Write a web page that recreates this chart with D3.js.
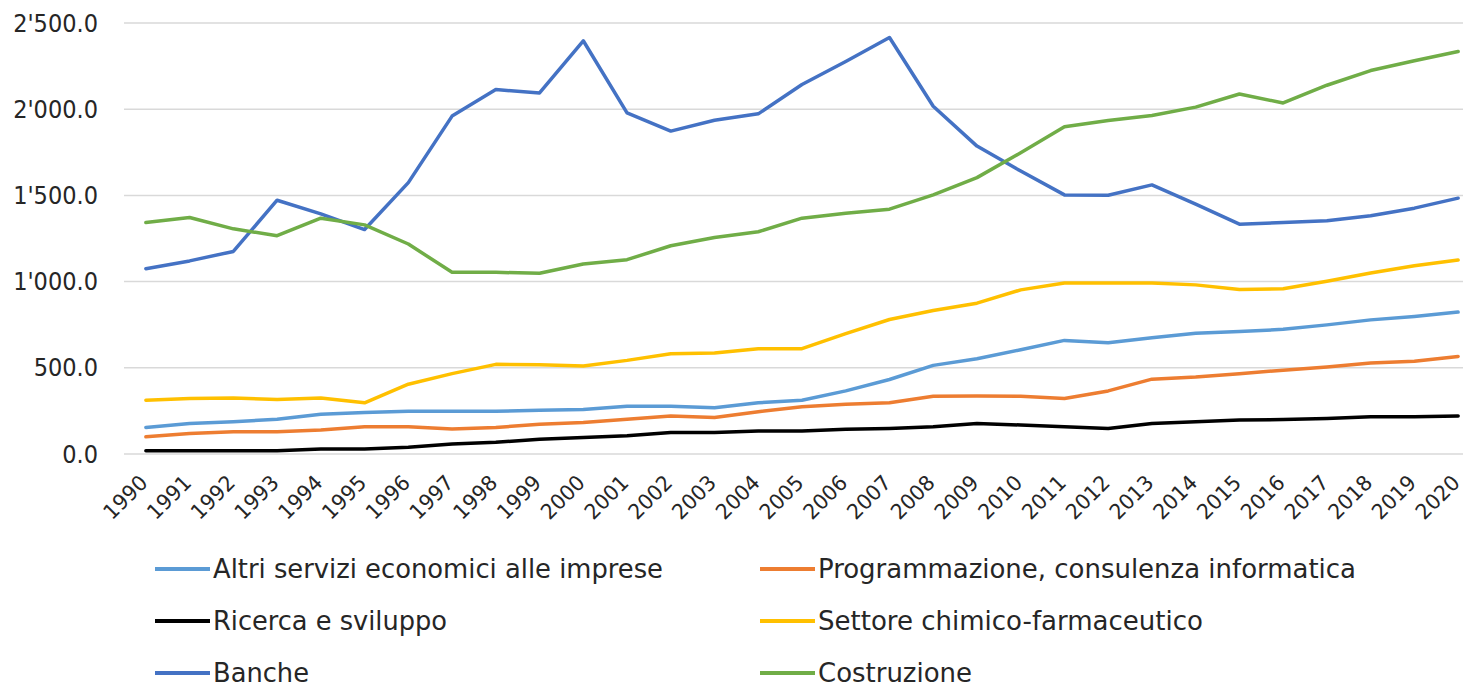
<!DOCTYPE html>
<html>
<head>
<meta charset="utf-8">
<script src="https://cdn.jsdelivr.net/npm/d3@7"></script>
<style>
  body { margin: 0; background: #fff; }
  svg text { font-family: "DejaVu Sans Condensed", "Liberation Sans Narrow", "Open Sans", sans-serif; fill: #262626; }
</style>
</head>
<body>
<div id="chart"></div>
<script>
const years = d3.range(1990, 2021).map(String);

const altriServizi = [154, 177, 187, 202, 231, 241, 248, 248, 248, 254, 258, 277, 277, 268, 297, 312, 366, 432, 514, 553, 605, 659, 645, 674, 701, 711, 723, 749, 778, 798, 823];
const programmazione = [100, 119, 129, 129, 139, 158, 158, 145, 154, 173, 183, 202, 221, 212, 245, 274, 289, 297, 335, 337, 335, 322, 366, 434, 447, 466, 486, 505, 528, 538, 566];
const ricerca = [19, 19, 19, 19, 29, 29, 39, 58, 68, 85, 96, 106, 125, 125, 133, 133, 143, 148, 158, 177, 168, 158, 148, 177, 187, 197, 200, 206, 216, 216, 221];
const chimico = [312, 322, 325, 316, 325, 297, 405, 466, 520, 518, 511, 543, 582, 586, 611, 611, 698, 780, 832, 875, 952, 992, 992, 992, 981, 954, 958, 1002, 1050, 1092, 1125];
const banche = [1075, 1120, 1175, 1472, 1393, 1302, 1574, 1960, 2114, 2094, 2397, 1979, 1873, 1936, 1973, 2143, 2277, 2416, 2017, 1786, 1641, 1503, 1501, 1561, 1449, 1333, 1343, 1353, 1382, 1426, 1484];
const costruzione = [1343, 1372, 1306, 1266, 1368, 1329, 1218, 1054, 1054, 1048, 1102, 1127, 1208, 1256, 1289, 1368, 1397, 1420, 1503, 1603, 1747, 1898, 1935, 1963, 2012, 2088, 2036, 2139, 2224, 2281, 2335];

const yTicks = [0, 500, 1000, 1500, 2000, 2500];

const series = [
  { name: "Altri servizi economici alle imprese", values: altriServizi, color: "#5b9bd5", textWidth: 450 },
  { name: "Programmazione, consulenza informatica", values: programmazione, color: "#ed7d31", textWidth: 538 },
  { name: "Ricerca e sviluppo", values: ricerca, color: "#000000", textWidth: 234 },
  { name: "Settore chimico-farmaceutico", values: chimico, color: "#ffc000", textWidth: 385 },
  { name: "Banche", values: banche, color: "#4472c4", textWidth: 96 },
  { name: "Costruzione", values: costruzione, color: "#70ad47", textWidth: 154 },
];

const width = 1463;
const height = 689;

const svg = d3.select("#chart")
  .append("svg")
  .attr("width", width)
  .attr("height", height);

const xScale = d3.scaleBand()
  .domain(years)
  .range([124, 1480]);

const yScale = d3.scaleLinear()
  .domain([0, 2500])
  .range([454, 23]);

const fmt = d3.formatLocale({ decimal: ".", thousands: "'", grouping: [3], currency: ["", ""] }).format(",.1f");

// grid lines
svg.append("g")
  .selectAll("line")
  .data(yTicks)
  .enter()
  .append("line")
  .attr("x1", 124)
  .attr("x2", width)
  .attr("y1", (d) => yScale(d))
  .attr("y2", (d) => yScale(d))
  .attr("stroke", "#d9d9d9")
  .attr("stroke-width", 1.5);

// y axis labels
const yAxis = svg.append("g")
  .attr("transform", "translate(112,0)")
  .call(d3.axisLeft(yScale).tickValues(yTicks).tickFormat(fmt).tickSize(0).tickPadding(14));
yAxis.select(".domain").remove();
yAxis.selectAll("text")
  .style("font-size", "25px")
  .attr("fill", "#262626");

// x axis labels
const xAxis = svg.append("g")
  .attr("transform", "translate(0,454)")
  .call(d3.axisBottom(xScale).tickSize(0).tickPadding(0));
xAxis.select(".domain").remove();
xAxis.selectAll("text")
  .style("font-size", "21px")
  .attr("fill", "#262626")
  .attr("text-anchor", "end")
  .attr("dy", 0)
  .attr("textLength", 52)
  .attr("lengthAdjust", "spacingAndGlyphs")
  .attr("transform", "translate(3,30) rotate(-45)");

// lines
const line = d3.line()
  .x((d, i) => xScale(years[i]) + xScale.bandwidth() / 2)
  .y((d) => yScale(d));

svg.append("g")
  .selectAll("path")
  .data(series)
  .enter()
  .append("path")
  .attr("d", (d) => line(d.values))
  .attr("fill", "none")
  .attr("stroke", (d) => d.color)
  .attr("stroke-width", 3.5)
  .attr("stroke-linejoin", "round")
  .attr("stroke-linecap", "round");

// legend
const legend = svg.append("g")
  .selectAll("g")
  .data(series)
  .enter()
  .append("g")
  .attr("transform", (d, i) => "translate(" + (i % 2 === 0 ? 155 : 760) + "," + (569 + Math.floor(i / 2) * 52) + ")");

legend.append("line")
  .attr("x1", 0)
  .attr("x2", 55)
  .attr("stroke", (d) => d.color)
  .attr("stroke-width", 4);

legend.append("text")
  .attr("x", 58)
  .attr("dy", "0.35em")
  .style("font-size", "26px")
  .attr("textLength", (d) => d.textWidth)
  .attr("lengthAdjust", "spacingAndGlyphs")
  .text((d) => d.name);
</script>
</body>
</html>
